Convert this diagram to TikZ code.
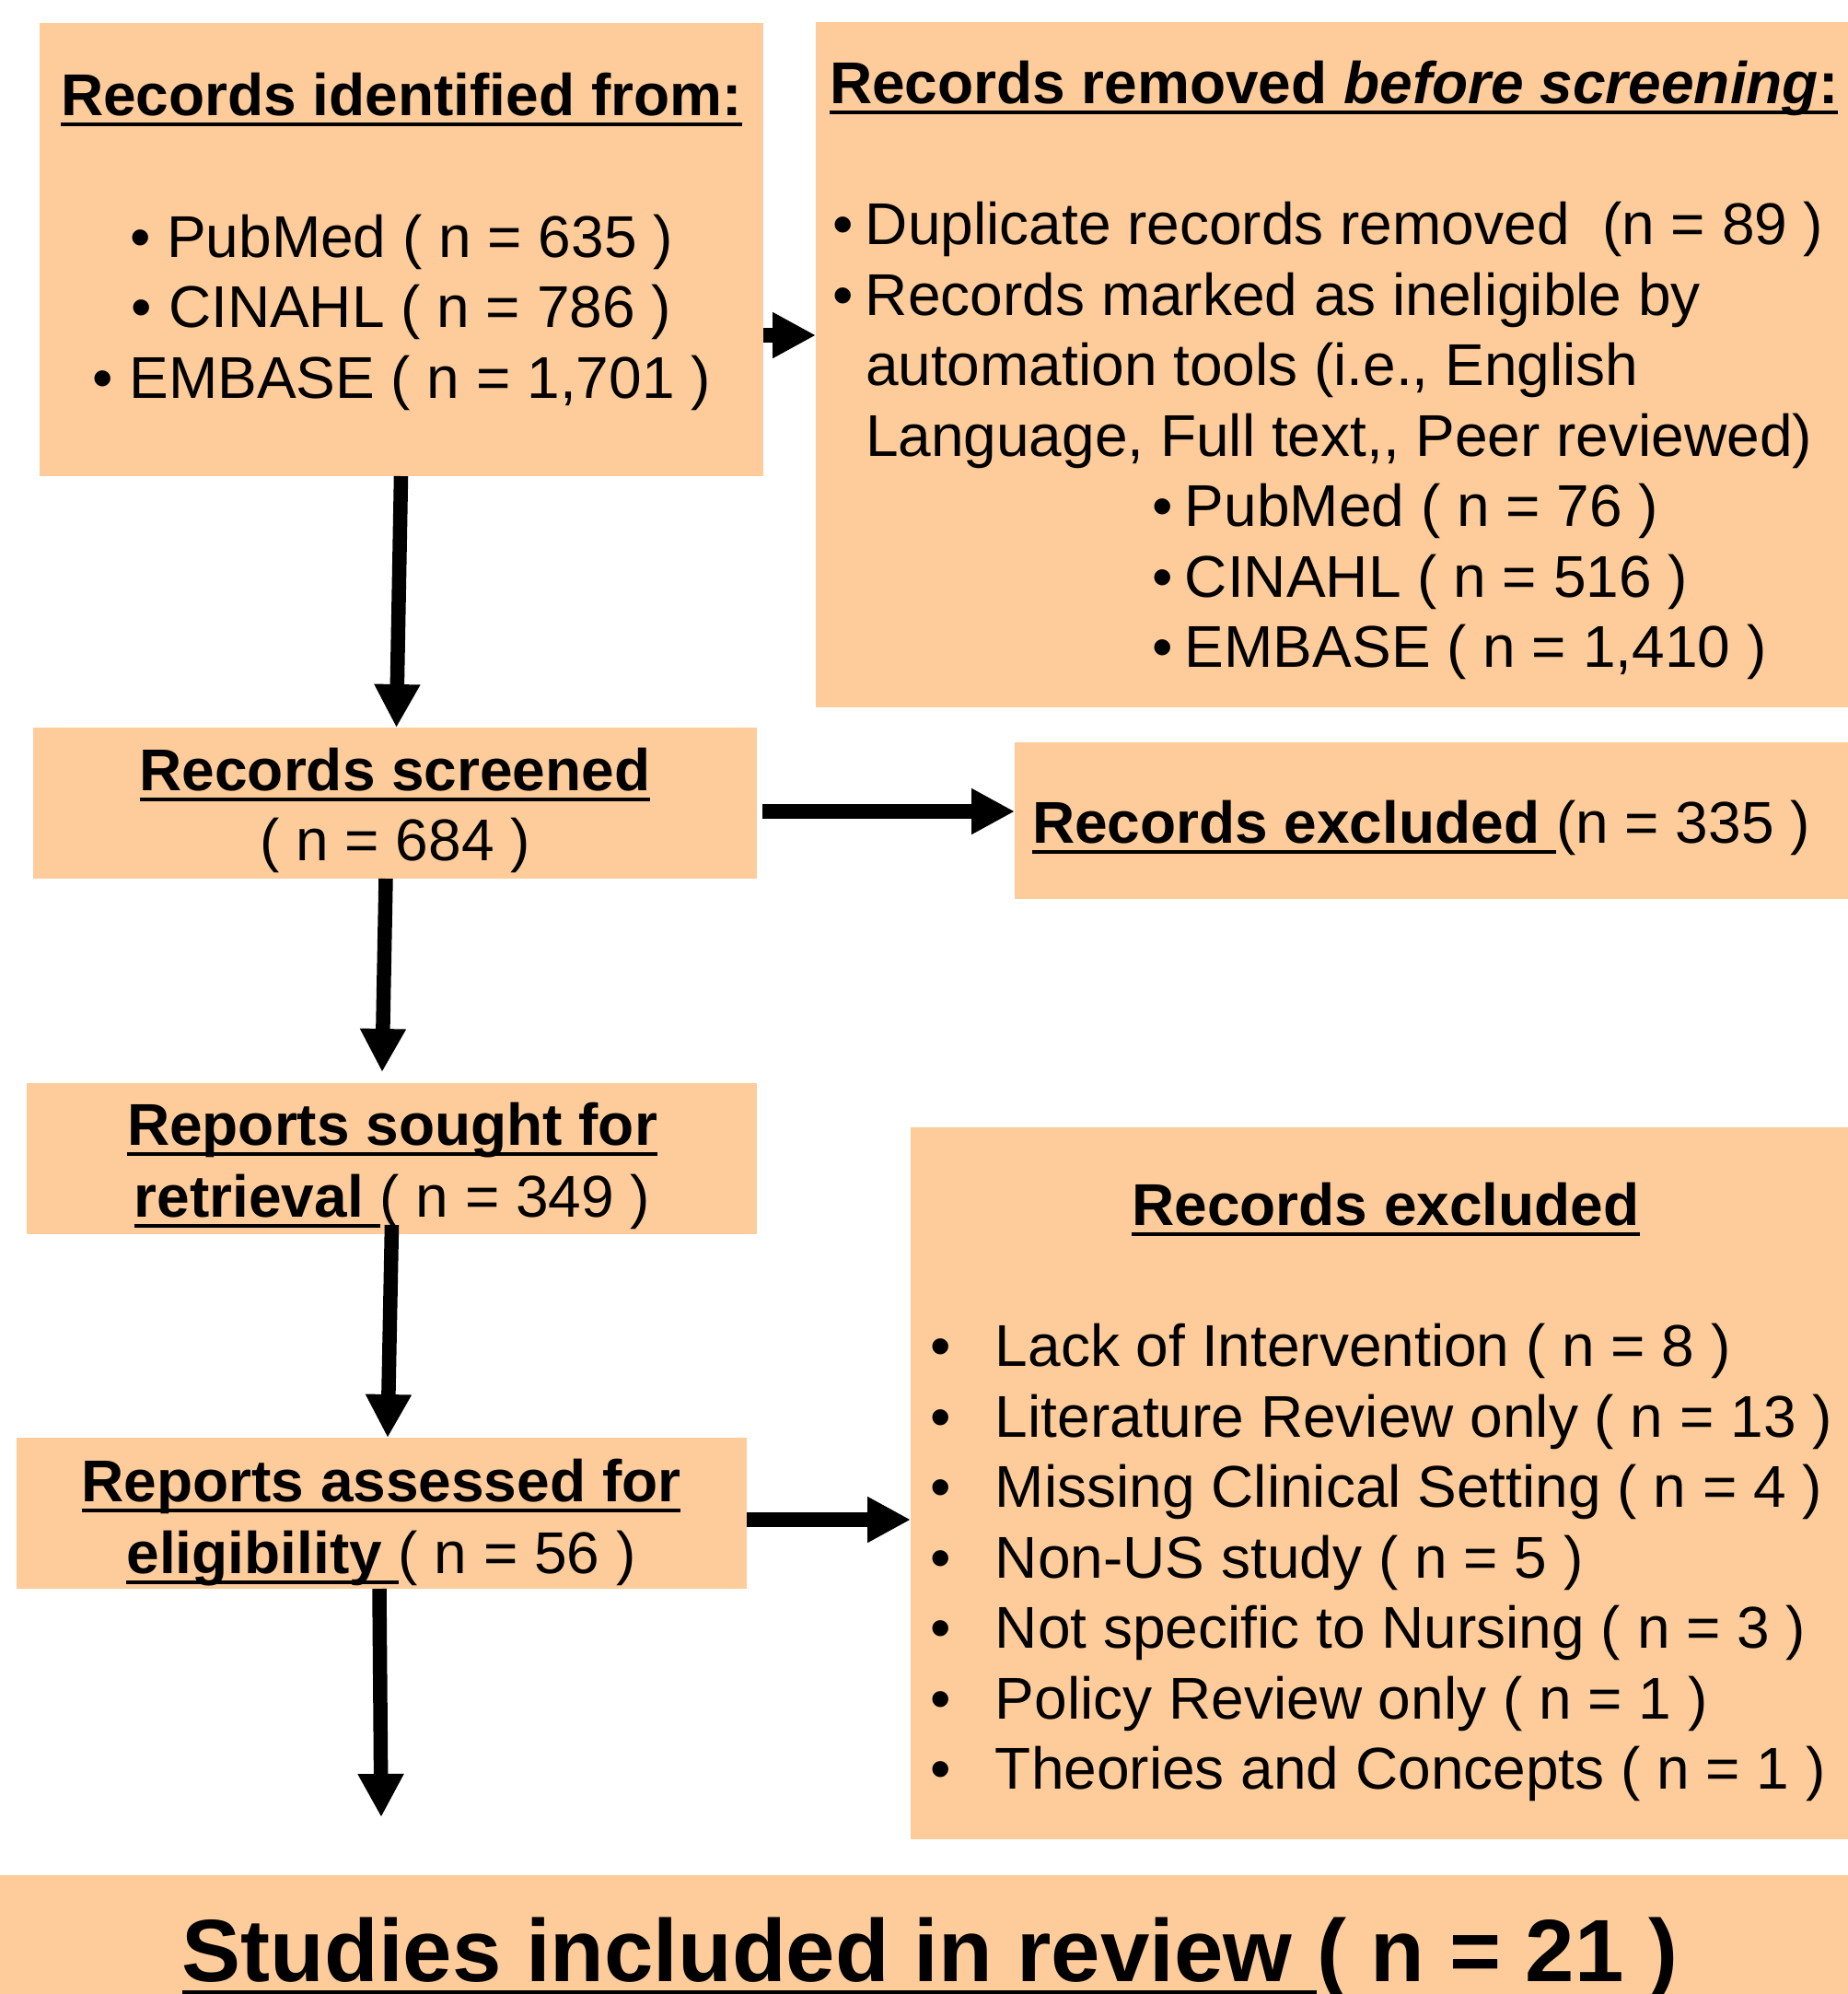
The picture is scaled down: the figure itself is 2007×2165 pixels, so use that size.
\documentclass[tikz,border=0pt]{standalone}
\usepackage{fontspec}
\setmainfont{Liberation Sans}
\usetikzlibrary{arrows.meta}
\definecolor{peach}{RGB}{254,203,154}
\newcommand\ulb[2][6pt]{\setbox0=\hbox{#2}\rlap{\rule[-#1]{\wd0}{1.8pt}}\box0}
\newcommand\bul[1][18pt]{\makebox[#1][l]{•}}
\begin{document}
\begin{tikzpicture}[x=0.5pt,y=-0.5pt,
  box/.style={fill=peach, draw=none, inner sep=0pt, outer sep=0pt, anchor=center},
  txt/.style={inner sep=0pt, outer sep=0pt, font=\fontsize{32}{38}\selectfont},
  arr/.style={line width=7.75pt, -{Triangle[length=23.5pt,width=23.5pt]}},
]
\useasboundingbox (0,0) rectangle (2007,2165);
\fill[white] (0,0) rectangle (2007,2165);
% boxes
\node[box, minimum width=393pt, minimum height=246pt] (b1) at (436,271) {};
\node[box, minimum width=560.5pt, minimum height=372pt] (b2) at (1446.5,396) {};
\node[box, minimum width=393pt, minimum height=82pt] (b3) at (429,872) {};
\node[box, minimum width=452.5pt, minimum height=85pt] (b4) at (1554.5,891) {};
\node[box, minimum width=396.5pt, minimum height=82pt] (b5) at (425.5,1258) {};
\node[box, minimum width=396.5pt, minimum height=82pt] (b6) at (414.5,1643) {};
\node[box, minimum width=509pt, minimum height=386.5pt] (b7) at (1498,1610.5) {};
\node[box, minimum width=1003.5pt, minimum height=64.5pt] (b8) at (1003.5,2100.5) {};
% box 1
\node[txt, anchor=base] (t1a) at (436,125) {\bfseries\ulb{Records identified from:}};
\node[txt, anchor=base] (t1b) at (436,279) {• PubMed ( n = 635 )};
\node[txt, anchor=base] (t1c) at (436,355) {• CINAHL ( n = 786 )};
\node[txt, anchor=base] (t1d) at (436,432) {• EMBASE ( n = 1,701 )};
% box 2
\node[txt, anchor=base west] (t2a) at (901,112) {\bfseries\ulb{Records removed \textit{before screening}:}};
\node[txt, anchor=base west] (t2b) at (904,265) {\bul Duplicate records removed\ \ (n = 89 )};
\node[txt, anchor=base west] (t2c) at (904,342) {\bul Records marked as ineligible by};
\node[txt, anchor=base west] (t2d) at (940,418) {automation tools (i.e., English};
\node[txt, anchor=base west] (t2e) at (940,495) {Language, Full text,{},{} Peer reviewed)};
\node[txt, anchor=base west] (t2f) at (1251,571) {\bul PubMed ( n = 76 )};
\node[txt, anchor=base west] (t2g) at (1251,648) {\bul CINAHL ( n = 516 )};
\node[txt, anchor=base west] (t2h) at (1251,724) {\bul EMBASE ( n = 1,410 )};
% box 3
\node[txt, anchor=base] (t3a) at (429,858) {\bfseries\ulb{Records screened}};
\node[txt, anchor=base] (t3b) at (429,934) {( n = 684 )};
% box 4
\node[txt, anchor=base west] (t4) at (1121,915) {{\bfseries\ulb{Records excluded }}(n = 335 )};
% box 5
\node[txt, anchor=base] (t5a) at (426,1243) {\bfseries\ulb{Reports sought for}};
\node[txt, anchor=base] (t5b) at (426,1321) {{\bfseries\ulb{retrieval }}( n = 349 )};
% box 6
\node[txt, anchor=base] (t6a) at (414,1630) {\bfseries\ulb{Reports assessed for}};
\node[txt, anchor=base] (t6b) at (414,1708) {{\bfseries\ulb{eligibility }}( n = 56 )};
% box 7
\node[txt, anchor=base] (t7a) at (1505,1330) {\bfseries\ulb{Records excluded}};
\node[txt, anchor=base west] (t7b) at (1010,1483) {\bul[35.5pt]Lack of Intervention ( n = 8 )};
\node[txt, anchor=base west] (t7c) at (1010,1560) {\bul[35.5pt]Literature Review only ( n = 13 )};
\node[txt, anchor=base west] (t7d) at (1010,1636) {\bul[35.5pt]Missing Clinical Setting ( n = 4 )};
\node[txt, anchor=base west] (t7e) at (1010,1713) {\bul[35.5pt]Non-US study ( n = 5 )};
\node[txt, anchor=base west] (t7f) at (1010,1789) {\bul[35.5pt]Not specific to Nursing ( n = 3 )};
\node[txt, anchor=base west] (t7g) at (1010,1866) {\bul[35.5pt]Policy Review only ( n = 1 )};
\node[txt, anchor=base west] (t7h) at (1010,1942) {\bul[35.5pt]Theories and Concepts ( n = 1 )};
% box 8
\node[txt, anchor=base, font=\fontsize{48}{57}\selectfont\bfseries] (t8) at (1010,2151) {\ulb[7pt]{Studies included in review }( n = 21 )};
% connectors
\draw[arr] ([xshift=-0.25pt]b1.south) -- ([xshift=0.75pt]b3.north);
\draw[arr] ([xshift=-5pt]b3.south) -- ([xshift=-5.25pt,yshift=6pt]b5.north);
\draw[arr] ([yshift=5pt]b5.south) -- ([xshift=3.25pt]b6.north);
\draw[arr, shorten >=31.5pt] ([xshift=-1.25pt]b6.south) -- (b6.south |- b8.north);
\coordinate (a1) at ([yshift=-46.5pt]b1.east);
\draw[arr] (a1) -- (a1 -| b2.west);
\coordinate (a2) at ([xshift=3pt,yshift=-4.5pt]b3.east);
\draw[arr] (a2) -- (a2 -| b4.west);
\coordinate (a3) at ([yshift=-3.5pt]b6.east);
\draw[arr] (a3) -- (a3 -| b7.west);
\end{tikzpicture}
\end{document}
